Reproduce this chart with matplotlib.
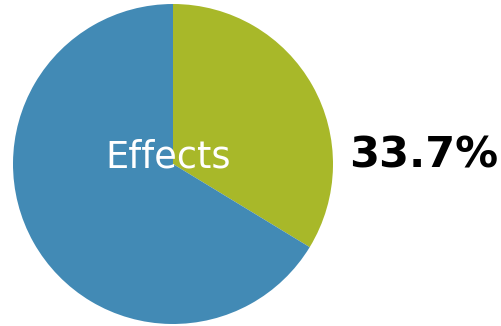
import matplotlib
matplotlib.use('Agg')
import matplotlib.pyplot as plt

labels = ['Effects', 'Other']
shares = [33.7, 66.3]
colors = ['#a8b829', '#428ab5']

fig = plt.figure(figsize=(5.01, 3.26), dpi=100)

# pie axes: center at (173, 164) px, radius 160 px
cx, cy, r = 173, 164, 160
ax = fig.add_axes([(cx - r) / 501, (326 - cy - r) / 326, 2 * r / 501, 2 * r / 326])
ax.pie(shares, colors=colors, startangle=90, counterclock=False,
       wedgeprops=dict(linewidth=0))
ax.set_aspect('equal')
ax.set_xlim(-1, 1)
ax.set_ylim(-1, 1)
ax.axis('off')

ax.text(-0.03, 0.045, labels[0], color='white', fontsize=26.5,
        ha='center', va='center')

fig.text(424 / 501, 1 - 156 / 326, '{:.1f}%'.format(shares[0]),
         fontsize=31, fontweight='bold', ha='center', va='center')

fig.savefig('out.png', dpi=100)
